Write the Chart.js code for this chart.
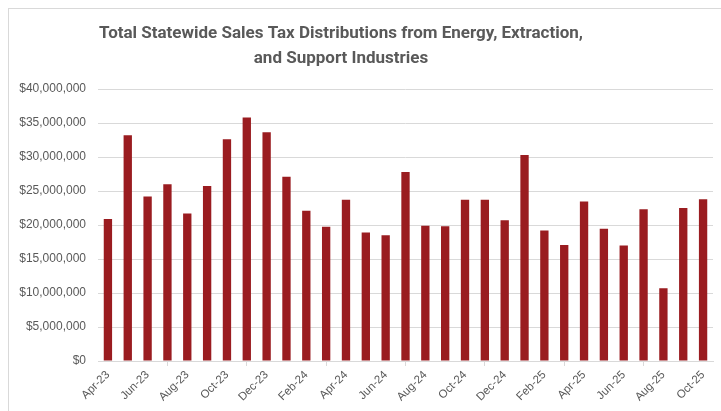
<!DOCTYPE html>
<html>
<head>
<meta charset="utf-8">
<script src="https://cdn.jsdelivr.net/npm/chart.js@4/dist/chart.umd.min.js"></script>
<style>
    html, body { margin: 0; padding: 0; background: #ffffff; }
    #wrap { position: relative; width: 721px; height: 411px; }
    #frame {
        position: absolute; left: 8px; top: 8px; right: 0; bottom: 0;
        border-left: 1px solid #d9d9d9; border-top: 1px solid #d9d9d9;
    }
    canvas { position: absolute; left: 0; top: 0; }
</style>
</head>
<body>
<div id="wrap">
    <div id="frame"></div>
    <canvas id="chart" width="721" height="411"></canvas>
</div>
<script>
// Monthly distributions, Apr-23 .. Oct-25
const months = [
    'Apr-23', 'May-23', 'Jun-23', 'Jul-23', 'Aug-23', 'Sep-23', 'Oct-23', 'Nov-23', 'Dec-23',
    'Jan-24', 'Feb-24', 'Mar-24', 'Apr-24', 'May-24', 'Jun-24', 'Jul-24', 'Aug-24', 'Sep-24',
    'Oct-24', 'Nov-24', 'Dec-24', 'Jan-25', 'Feb-25', 'Mar-25', 'Apr-25', 'May-25', 'Jun-25',
    'Jul-25', 'Aug-25', 'Sep-25', 'Oct-25',
];
const distributions = [
    20.9, 33.2, 24.2, 26.0, 21.7, 25.75, 32.6, 35.8, 33.65,
    27.1, 22.1, 19.75, 23.7, 18.9, 18.5, 27.8, 19.9, 19.8,
    23.7, 23.7, 20.7, 30.3, 19.2, 17.05, 23.45, 19.45, 17.0,
    22.3, 10.7, 22.5, 23.8,
].map(v => v * 1e6);
const titleLines = [
    'Total Statewide Sales Tax Distributions from Energy, Extraction,',
    'and Support Industries',
];

const gray = '#595959';
const lineGray = '#d9d9d9';

// Title sits centred on the whole frame, not on the canvas, so draw it here
const frameTitle = {
    id: 'frameTitle',
    afterDraw(chart) {
        const ctx = chart.ctx;
        ctx.save();
        ctx.fillStyle = gray;
        ctx.font = "bold 17px 'Liberation Sans Narrow', 'Roboto', sans-serif";
        ctx.textAlign = 'center';
        ctx.textBaseline = 'middle';
        titleLines.forEach((line, i) => ctx.fillText(line, 341, 34 + i * 25));
        ctx.restore();
    },
};

new Chart(document.getElementById('chart'), {
    type: 'bar',
    data: {
        labels: months,
        datasets: [{
            data: distributions,
            backgroundColor: '#9a1c20',
            borderWidth: 0,
            barPercentage: 0.42,
            categoryPercentage: 1.0,
        }],
    },
    plugins: [frameTitle],
    options: {
        responsive: false,
        animation: false,
        layout: { padding: { top: 89, right: 8, left: 0, bottom: 0 } },
        plugins: {
            legend: { display: false },
            tooltip: { enabled: false },
        },
        scales: {
            x: {
                offset: true,
                grid: {
                    offset: true,
                    drawOnChartArea: false,
                    tickLength: 5,
                    color: ctx => (ctx.index % 2 === 0 ? lineGray : 'rgba(0,0,0,0)'),
                },
                border: { color: lineGray },
                ticks: {
                    autoSkip: false,
                    maxRotation: 45,
                    minRotation: 45,
                    color: gray,
                    font: { family: "'Liberation Sans', Arial, sans-serif", size: 11.5 },
                    padding: 2,
                    callback: (value, index) => (index % 2 === 0 ? months[index] : null),
                },
                afterFit: scale => { scale.height = 50; },
            },
            y: {
                min: 0,
                max: 40000000,
                grid: { color: lineGray, drawTicks: false },
                border: { display: false },
                ticks: {
                    stepSize: 5000000,
                    color: gray,
                    padding: 12,
                    font: { family: "'Liberation Sans', Arial, sans-serif", size: 12 },
                    callback: v => '$' + Number(v).toLocaleString('en-US'),
                },
                afterFit: scale => { scale.width = 98; },
            },
        },
    },
});
</script>
</body>
</html>
